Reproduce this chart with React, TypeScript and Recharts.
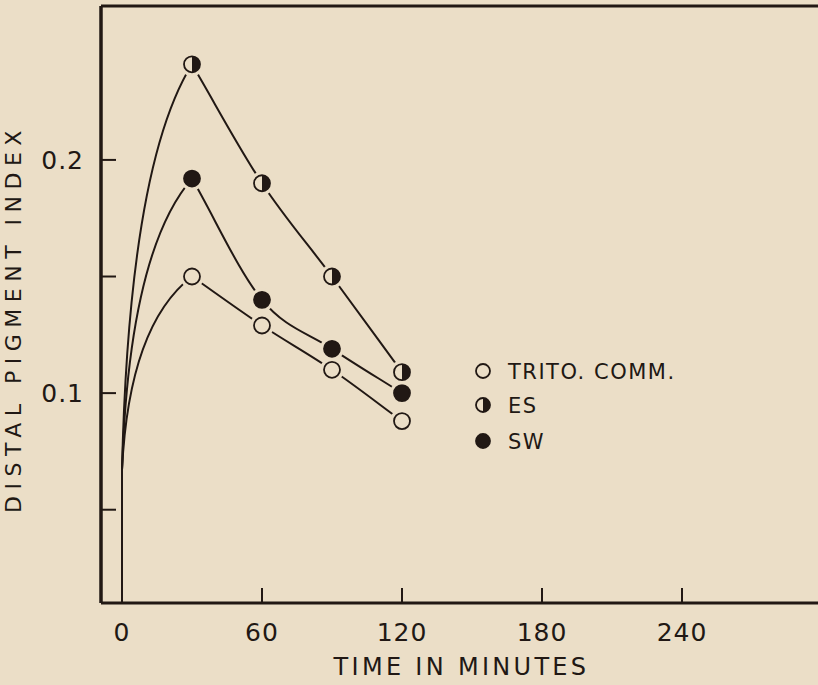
import {LineChart, Line, XAxis, YAxis, ReferenceLine, Legend} from 'recharts';

const minutes = [0, 30, 60, 90, 120];
const trito = [0.067, 0.150, 0.129, 0.110, 0.088];
const es = [0.067, 0.241, 0.190, 0.150, 0.109];
const sw = [0.067, 0.192, 0.140, 0.119, 0.100];
const baseT = [0, 0];
const baseV = [0.01, 0.067];
const xTicks = [0, 60, 120, 180, 240];
const yTicks = [0.05, 0.1, 0.15, 0.2];
const yLabels: Record<string, string> = {'0.1': '0.1', '0.2': '0.2'};
const legendNames = ['TRITO. COMM.', 'ES', 'SW'];

const data = minutes.map((t, i) => ({t, trito: trito[i], es: es[i], sw: sw[i]}));
const base = baseT.map((t, i) => ({t, v: baseV[i]}));

const INK = '#211814';
const BG = '#ebdec7';
const FONT = '"DejaVu Sans", sans-serif';

// hand-drawn look: upright rise into a pointed peak, then a smooth fall
function peakCurve(context: any) {
  let xs: number[] = [];
  let ys: number[] = [];
  return {
    areaStart() {},
    areaEnd() {},
    lineStart() { xs = []; ys = []; },
    point(x: number, y: number) { xs.push(+x); ys.push(+y); },
    lineEnd() {
      const n = xs.length;
      if (!n) return;
      context.moveTo(xs[0], ys[0]);
      if (n < 3) { if (n === 2) context.lineTo(xs[1], ys[1]); return; }
      const dx0 = xs[1] - xs[0];
      const dy0 = ys[1] - ys[0];
      context.quadraticCurveTo(xs[0] + 0.1 * dx0, ys[0] + 0.75 * dy0, xs[1], ys[1]);
      const s: number[] = [];
      for (let i = 1; i < n - 1; i++) s.push((ys[i + 1] - ys[i]) / (xs[i + 1] - xs[i]));
      const m: number[] = [];
      for (let i = 1; i < n; i++) {
        if (i === 1) m[i] = s[0];
        else if (i === n - 1) m[i] = s[s.length - 1];
        else m[i] = (s[i - 2] + s[i - 1]) / 2;
      }
      for (let i = 1; i < n - 1; i++) {
        const h = (xs[i + 1] - xs[i]) / 3;
        context.bezierCurveTo(xs[i] + h, ys[i] + m[i] * h, xs[i + 1] - h, ys[i + 1] - m[i + 1] * h, xs[i + 1], ys[i + 1]);
      }
    },
  };
}

function marker(kind: string, cx: number, cy: number, r: number, halo: boolean) {
  return <g>
    {halo && <circle cx={cx} cy={cy} r={r + 4} fill={BG} />}
    <circle cx={cx} cy={cy} r={r} fill={kind === 'sw' ? INK : BG} stroke={INK} strokeWidth={1.8} />
    {kind === 'es' && <path d={`M${cx},${cy - r} A${r},${r} 0 0 1 ${cx},${cy + r} Z`} fill={INK} />}
  </g>;
}

const dot = (kind: string) => (p: any) => {
  if (p.index === 0) return <g key={p.index} />;
  return <g key={p.index}>{marker(kind, p.cx, p.cy, 8, true)}</g>;
};

const XTick = (p: any) => <g>
  <line x1={p.x} x2={p.x} y1={p.y} y2={p.y - 15} stroke={INK} strokeWidth={2} />
  <text x={p.x} y={p.y + 29} dy="0.35em" textAnchor="middle" fill={INK} fontSize={25} fontFamily={FONT} letterSpacing={1}>{p.payload.value}</text>
</g>;

const YTick = (p: any) => <g>
  <line x1={p.x} x2={p.x + 15} y1={p.y} y2={p.y} stroke={INK} strokeWidth={2} />
  <text x={p.x - 17} y={p.y} dy="0.35em" textAnchor="end" fill={INK} fontSize={25} fontFamily={FONT} letterSpacing={1}>{yLabels[String(p.payload.value)] ?? ''}</text>
</g>;

const kinds = ['trito', 'es', 'sw'];
const LegendBox = () => <svg width={260} height={110} style={{display: 'block'}}>
  {legendNames.map((n, i) => <g key={n}>
    {marker(kinds[i], 13, [16, 50, 86][i], 7, false)}
    <text x={38} y={[16, 50, 86][i]} dy="0.36em" fill={INK} fontSize={21} fontFamily={FONT} letterSpacing={1.5}>{n}</text>
  </g>)}
</svg>;

export default function App() {
  return <div style={{position: 'absolute', left: 0, top: 0, width: 818, height: 685, overflow: 'hidden', background: BG}}>
    <LineChart width={830} height={685} data={data} margin={{top: 6, right: 8, bottom: 0, left: 0}}>
      <XAxis dataKey="t" type="number" domain={[-9, 300]} ticks={xTicks} allowDataOverflow
        height={82} tickSize={0} tickMargin={0} tickLine={false} tick={<XTick />}
        axisLine={{stroke: INK, strokeWidth: 3}}
        label={{value: 'TIME IN MINUTES', position: 'insideBottom', offset: 10, fill: INK, fontSize: 24, fontFamily: FONT, letterSpacing: 3.3}} />
      <YAxis type="number" domain={[0.01, 0.266]} ticks={yTicks} allowDataOverflow
        width={101} tickSize={0} tickMargin={0} tickLine={false} tick={<YTick />}
        axisLine={{stroke: INK, strokeWidth: 3.5}}
        label={{value: 'DISTAL PIGMENT INDEX', angle: -90, position: 'insideLeft', offset: 13, dy: 14, fill: INK, fontSize: 22, fontFamily: FONT, letterSpacing: 6.5, style: {textAnchor: 'middle'}}} />
      <ReferenceLine y={0.266} stroke={INK} strokeWidth={3} />
      <Line data={base} dataKey="v" type="linear" stroke={INK} strokeWidth={2} dot={false} isAnimationActive={false} legendType="none" />
      <Line dataKey="trito" type={peakCurve as any} stroke={INK} strokeWidth={2} dot={dot('trito')} isAnimationActive={false} />
      <Line dataKey="sw" type={peakCurve as any} stroke={INK} strokeWidth={2} dot={dot('sw')} isAnimationActive={false} />
      <Line dataKey="es" type={peakCurve as any} stroke={INK} strokeWidth={2} dot={dot('es')} isAnimationActive={false} />
      <Legend content={<LegendBox />} wrapperStyle={{position: 'absolute', left: 470, top: 355, width: 260}} layout="vertical" align="center" verticalAlign="middle" />
    </LineChart>
  </div>;
}
